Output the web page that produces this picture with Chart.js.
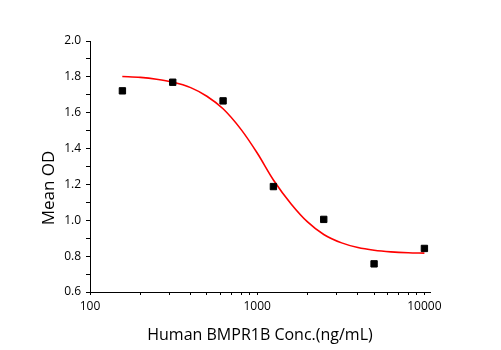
<!DOCTYPE html>
<html>
<head>
<meta charset="utf-8">
<script src="https://cdn.jsdelivr.net/npm/chart.js@4/dist/chart.umd.min.js"></script>
<style>
	html, body { margin: 0; padding: 0; background: #fff; }
	#plot { display: block; }
</style>
</head>
<body>
<canvas id="plot" width="501" height="350"></canvas>
<script>
	/* ================= Data ================= */

	var concentrations = [156.25, 312.5, 625, 1250, 2500, 5000, 10000];
	var meanOD = [1.722, 1.770, 1.666, 1.188, 1.005, 0.757, 0.843];

	// fitted red curve, read at several concentrations
	var curveConc = [156, 200, 250, 312, 400, 500, 625, 800, 1000, 1250, 1600, 2000, 2500, 3200, 4000, 5000, 6300, 8000, 10000];
	var curveOD = [1.802, 1.797, 1.787, 1.771, 1.740, 1.692, 1.622, 1.507, 1.375, 1.225, 1.090, 0.991, 0.921, 0.874, 0.848, 0.833, 0.824, 0.819, 0.817];

	var xTickLabels = [100, 1000, 10000];
	var yTickLabels = ['0.6', '0.8', '1.0', '1.2', '1.4', '1.6', '1.8', '2.0'];

	var xTitle = 'Human BMPR1B Conc.(ng/mL)';
	var yTitle = 'Mean OD';

	/* ================= Helpers ================= */

	function toPoints(xs, ys) {
		return xs.map(function(x, i) {
			return { x: x, y: ys[i] };
		});
	}

	// 100, 200 ... 900, 1000, 2000 ... 10000
	function logTicks() {
		var ticks = [];
		for (var d = 0; d < xTickLabels.length - 1; d++) {
			for (var m = 1; m < 10; m++) {
				ticks.push({ value: xTickLabels[d] * m });
			}
		}
		ticks.push({ value: xTickLabels[xTickLabels.length - 1] });
		return ticks;
	}

	var yTitlePlugin = {
		id: 'yTitle',
		afterDraw: function(chart) {
			var ctx = chart.ctx;
			var yScale = chart.scales.y;
			ctx.save();
			ctx.translate(49, yScale.getPixelForValue(1.18));
			ctx.rotate(-Math.PI / 2);
			ctx.font = '17px "Open Sans"';
			ctx.fillStyle = '#000';
			ctx.textAlign = 'center';
			ctx.textBaseline = 'middle';
			ctx.fillText(yTitle, 0, 0);
			ctx.restore();
		}
	};

	/* ================= Chart ================= */

	var tickFont = { family: 'Open Sans', size: 12 };

	new Chart(document.getElementById('plot'), {
		type: 'scatter',
		data: {
			datasets: [{
				label: 'Mean OD',
				data: toPoints(concentrations, meanOD),
				backgroundColor: '#000',
				borderColor: '#000',
				pointStyle: 'rect',
				pointRadius: 4.5,
				pointHoverRadius: 4.5,
				showLine: false
			}, {
				label: 'Fit',
				data: toPoints(curveConc, curveOD),
				showLine: true,
				borderColor: '#ff0000',
				borderWidth: 1.6,
				pointRadius: 0,
				cubicInterpolationMode: 'monotone',
				fill: false
			}]
		},
		options: {
			responsive: false,
			devicePixelRatio: 1,
			animation: false,
			layout: { padding: { left: 0, top: 41, right: 71, bottom: 0 } },
			plugins: {
				legend: { display: false },
				tooltip: { enabled: false }
			},
			scales: {
				x: {
					type: 'logarithmic',
					min: 100,
					max: 10800,
					afterBuildTicks: function(scale) {
						scale.ticks = logTicks();
					},
					afterFit: function(scale) {
						scale.height = 58;
					},
					border: { display: true, color: '#000', width: 1 },
					grid: { drawOnChartArea: false, drawTicks: true, tickLength: 3, color: '#000' },
					ticks: {
						autoSkip: false,
						maxRotation: 0,
						padding: 4,
						color: '#000',
						font: tickFont,
						callback: function(value) {
							return xTickLabels.indexOf(value) >= 0 ? String(value) : '';
						}
					},
					title: {
						display: true,
						text: xTitle,
						color: '#000',
						font: { family: 'Open Sans', size: 16 },
						padding: { top: 0, bottom: 5 }
					}
				},
				y: {
					min: 0.6,
					max: 2.0,
					afterBuildTicks: function(scale) {
						var ticks = [];
						for (var i = 6; i <= 20; i++) {
							ticks.push({ value: i / 10 });
						}
						scale.ticks = ticks;
					},
					afterFit: function(scale) {
						scale.width = 90;
					},
					border: { display: true, color: '#000', width: 1 },
					grid: { drawOnChartArea: false, drawTicks: true, tickLength: 4, color: '#000' },
					ticks: {
						autoSkip: false,
						padding: 5,
						color: '#000',
						font: tickFont,
						callback: function(value) {
							var label = value.toFixed(1);
							return yTickLabels.indexOf(label) >= 0 ? label : '';
						}
					}
				}
			}
		},
		plugins: [yTitlePlugin]
	});
</script>
</body>
</html>
